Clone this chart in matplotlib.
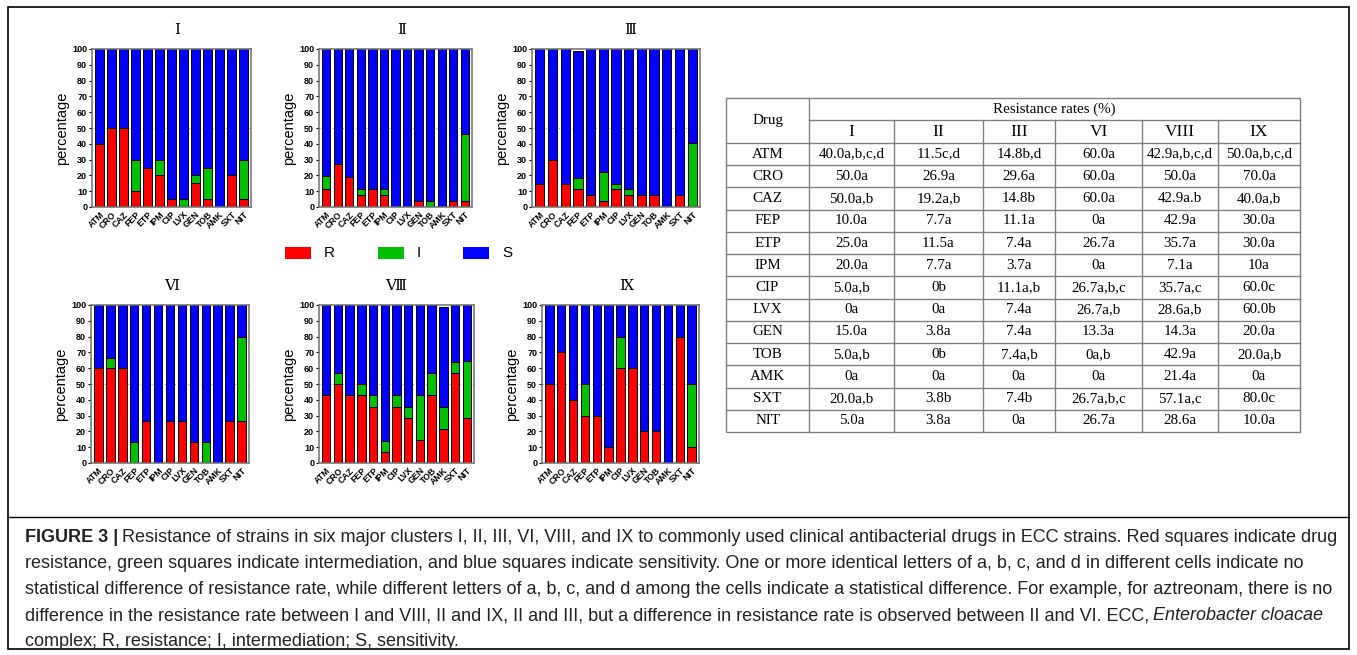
import numpy as np
import matplotlib
matplotlib.use('Agg')
import matplotlib.pyplot as plt
from matplotlib.patches import Rectangle

plt.rcParams['font.family'] = ['Liberation Sans', 'DejaVu Sans']

W, H = 1357, 655

drugs = ['ATM', 'CRO', 'CAZ', 'FEP', 'ETP', 'IPM', 'CIP', 'LVX', 'GEN', 'TOB', 'AMK', 'SXT', 'NIT']
clusters = ['I', 'II', 'III', 'VI', 'VIII', 'IX']
cluster_titles = ['Ⅰ', 'Ⅱ', 'Ⅲ', 'Ⅵ', 'Ⅷ', 'Ⅸ']

# stacked bar values (%): R, I, S
r_vals = {
    'I':    [40, 50, 50, 10, 25, 20, 5, 0, 15, 5, 0, 20, 5],
    'II':   [11.5, 26.9, 19.2, 7.7, 11.5, 7.7, 0, 0, 3.8, 0, 0, 3.8, 3.8],
    'III':  [14.8, 29.6, 14.8, 11.1, 7.4, 3.7, 11.1, 7.4, 7.4, 7.4, 0, 7.4, 0],
    'VI':   [60, 60, 60, 0, 26.7, 0, 26.7, 26.7, 13.3, 0, 0, 26.7, 26.7],
    'VIII': [42.9, 50, 42.9, 42.9, 35.7, 7.1, 35.7, 28.6, 14.3, 42.9, 21.4, 57.1, 28.6],
    'IX':   [50, 70, 40, 30, 30, 10, 60, 60, 20, 20, 0, 80, 10],
}
i_vals = {
    'I':    [0, 0, 0, 20, 0, 10, 0, 5, 5, 20, 0, 0, 25],
    'II':   [8, 0, 0, 3.8, 0, 3.8, 0, 0, 0, 3.8, 0, 0, 42.3],
    'III':  [0, 0, 0, 7.4, 0, 18.5, 3.7, 3.7, 0, 0, 0, 0, 40.7],
    'VI':   [0, 6.7, 0, 13.3, 0, 0, 0, 0, 0, 13.3, 0, 0, 53.3],
    'VIII': [0, 7.1, 0, 7.1, 7.1, 7.1, 7.1, 7.1, 28.6, 14.3, 14.3, 7.1, 35.7],
    'IX':   [0, 0, 0, 20, 0, 0, 20, 0, 0, 0, 0, 0, 40],
}
s_vals = {
    'I':    [60, 50, 50, 70, 75, 70, 95, 95, 80, 75, 100, 80, 70],
    'II':   [80.5, 73.1, 80.8, 88.5, 88.5, 88.5, 100, 100, 96.2, 96.2, 100, 96.2, 53.9],
    'III':  [85.2, 70.4, 85.2, 80.5, 92.6, 77.8, 85.2, 88.9, 92.6, 92.6, 100, 92.6, 59.3],
    'VI':   [40, 33.3, 40, 86.7, 73.3, 100, 73.3, 73.3, 86.7, 86.7, 100, 73.3, 20],
    'VIII': [57.1, 42.9, 57.1, 50, 57.2, 85.8, 57.2, 64.3, 57.1, 42.8, 63.3, 35.8, 35.7],
    'IX':   [50, 30, 60, 50, 70, 90, 20, 40, 80, 80, 100, 20, 50],
}

# table of resistance rates
table_cols = ['I', 'II', 'III', 'VI', 'VIII', 'IX']
table_vals = {
    'I':    ['40.0a,b,c,d', '50.0a', '50.0a,b', '10.0a', '25.0a', '20.0a', '5.0a,b', '0a', '15.0a', '5.0a,b', '0a', '20.0a,b', '5.0a'],
    'II':   ['11.5c,d', '26.9a', '19.2a,b', '7.7a', '11.5a', '7.7a', '0b', '0a', '3.8a', '0b', '0a', '3.8b', '3.8a'],
    'III':  ['14.8b,d', '29.6a', '14.8b', '11.1a', '7.4a', '3.7a', '11.1a,b', '7.4a', '7.4a', '7.4a,b', '0a', '7.4b', '0a'],
    'VI':   ['60.0a', '60.0a', '60.0a', '0a', '26.7a', '0a', '26.7a,b,c', '26.7a,b', '13.3a', '0a,b', '0a', '26.7a,b,c', '26.7a'],
    'VIII': ['42.9a,b,c,d', '50.0a', '42.9a.b', '42.9a', '35.7a', '7.1a', '35.7a,c', '28.6a,b', '14.3a', '42.9a', '21.4a', '57.1a,c', '28.6a'],
    'IX':   ['50.0a,b,c,d', '70.0a', '40.0a,b', '30.0a', '30.0a', '10a', '60.0c', '60.0b', '20.0a', '20.0a,b', '0a', '80.0c', '10.0a'],
}

RED, GREEN, BLUE = '#ff0000', '#00c000', '#0000ff'


def px(x0, y0, x1, y1):
    return [x0 / W, 1 - y1 / H, (x1 - x0) / W, (y1 - y0) / H]


fig = plt.figure(figsize=(W / 100, H / 100), dpi=100)

# background layer in pixel coordinates (frame, legend, table, caption)
ax0 = fig.add_axes([0, 0, 1, 1])
ax0.set_xlim(0, W)
ax0.set_ylim(H, 0)
ax0.axis('off')

ax0.add_patch(Rectangle((8, 7), 1341, 642, fill=False, edgecolor='black', lw=1.2))
ax0.plot([8, 1349], [517, 517], color='black', lw=1.0)

# panels
boxes = [(92, 49, 251, 207), (319, 49, 472, 207), (532, 49, 700, 207),
         (91, 305, 249, 463), (319, 305, 474, 463), (542, 305, 699, 463)]
title_pos = [(177, 30), (402, 30), (630, 30), (172, 286), (396, 286), (626, 286)]

x = np.arange(len(drugs))
for cl, title, box, tp in zip(clusters, cluster_titles, boxes, title_pos):
    ax = fig.add_axes(px(*box))
    r = np.array(r_vals[cl])
    i = np.array(i_vals[cl])
    s = np.array(s_vals[cl])
    kw = dict(width=0.72, edgecolor='black', linewidth=0.7, zorder=2)
    ax.bar(x, r, color=RED, **kw)
    ax.bar(x, i, bottom=r, color=GREEN, **kw)
    ax.bar(x, s, bottom=r + i, color=BLUE, **kw)
    ax.axhline(50, color='#999999', ls=(0, (1, 2)), lw=0.8, zorder=1)
    ax.set_xlim(-0.62, len(drugs) - 0.38)
    ax.set_ylim(0, 100)
    ax.set_yticks(range(0, 101, 10))
    ax.set_xticks(x)
    ax.set_xticklabels(drugs, rotation=45, ha='right', rotation_mode='anchor',
                       fontsize=6.3, fontweight='bold')
    for lbl in ax.get_yticklabels():
        lbl.set_fontweight('bold')
    ax.tick_params(axis='x', length=0, pad=2)
    ax.tick_params(axis='y', labelsize=6.5, length=2.5, width=0.8, pad=1)
    for sp in ax.spines.values():
        sp.set_color('#707070')
        sp.set_linewidth(1.1)
    ax.set_ylabel('percentage', fontsize=10.5, labelpad=2)
    ax0.text(tp[0], tp[1], title, ha='center', va='center', fontsize=11,
             family=['DejaVu Serif'])

# legend
for (lx, col, lab) in [(285, RED, 'R'), (378, GREEN, 'I'), (463, BLUE, 'S')]:
    ax0.add_patch(Rectangle((lx, 247), 26, 12, facecolor=col, edgecolor='none'))
    ax0.text(lx + 39, 253, lab, ha='left', va='center', fontsize=11)

# table
tcol = '#808080'
col_x = [726, 809, 894, 983, 1055, 1142, 1218, 1300]
top, h1, h2 = 98, 120, 143
row_h = (432 - h2) / len(drugs)
bottom = h2 + row_h * len(drugs)
ax0.add_patch(Rectangle((col_x[0], top), col_x[-1] - col_x[0], bottom - top,
                        fill=False, edgecolor=tcol, lw=1.0))
ax0.plot([col_x[1], col_x[1]], [top, bottom], color=tcol, lw=1.0)
ax0.plot([col_x[1], col_x[-1]], [h1, h1], color=tcol, lw=1.0)
for cx in col_x[2:-1]:
    ax0.plot([cx, cx], [h1, bottom], color=tcol, lw=1.0)
for k in range(len(drugs)):
    yl = h2 + k * row_h
    ax0.plot([col_x[0], col_x[-1]], [yl, yl], color=tcol, lw=1.0)

serif = ['Liberation Serif', 'DejaVu Serif']
tfs = 10.8
ax0.text((col_x[0] + col_x[1]) / 2, (top + h2) / 2, 'Drug', ha='center', va='center',
         fontsize=tfs, family=serif)
ax0.text((col_x[1] + col_x[-1]) / 2, (top + h1) / 2, 'Resistance rates (%)',
         ha='center', va='center', fontsize=tfs, family=serif)
for j, cl in enumerate(table_cols):
    cx = (col_x[j + 1] + col_x[j + 2]) / 2
    ax0.text(cx, (h1 + h2) / 2 + 1, cl, ha='center', va='center', fontsize=12.5, family=serif)
for k, d in enumerate(drugs):
    cy = h2 + (k + 0.5) * row_h
    ax0.text((col_x[0] + col_x[1]) / 2, cy, d, ha='center', va='center',
             fontsize=tfs, family=serif)
    for j, cl in enumerate(table_cols):
        cx = (col_x[j + 1] + col_x[j + 2]) / 2
        ax0.text(cx, cy, table_vals[cl][k], ha='center', va='center',
                 fontsize=tfs, family=serif)

# caption
renderer = fig.canvas.get_renderer()
cap_fs = 13.0
cap_lines = [
    [('FIGURE 3 |', {'fontweight': 'bold'}),
     ('Resistance of strains in six major clusters I, II, III, VI, VIII, and IX to commonly used '
      'clinical antibacterial drugs in ECC strains. Red squares indicate drug', {})],
    [('resistance, green squares indicate intermediation, and blue squares indicate sensitivity. '
      'One or more identical letters of a, b, c, and d in different cells indicate no', {})],
    [('statistical difference of resistance rate, while different letters of a, b, c, and d among '
      'the cells indicate a statistical difference. For example, for aztreonam, there is no', {})],
    [('difference in the resistance rate between I and VIII, II and IX, II and III, but a difference '
      'in resistance rate is observed between II and VI. ECC,', {}),
     ('Enterobacter cloacae', {'style': 'italic'})],
    [('complex; R, resistance; I, intermediation; S, sensitivity.', {})],
]
cap_y = [538, 564, 590, 616, 641]
for yy, pieces in zip(cap_y, cap_lines):
    xx = 25
    for txt, kw in pieces:
        t = ax0.text(xx, yy, txt, ha='left', va='center', fontsize=cap_fs, color='#222222', **kw)
        xx += t.get_window_extent(renderer).width + 4

fig.savefig('out.png', dpi=100)
